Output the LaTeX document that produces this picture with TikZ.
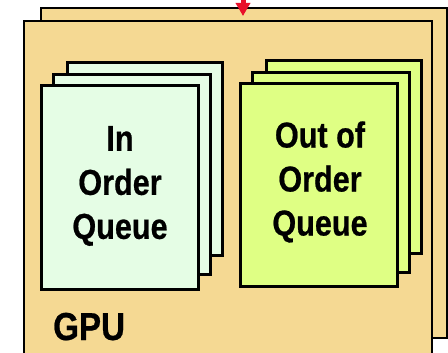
\documentclass[tikz,border=0pt]{standalone}
\usepackage{fontspec}
\usetikzlibrary{arrows.meta}
\newfontfamily\lblfont[FakeStretch=0.85,FakeBold=0.6]{Liberation Sans}
\definecolor{gpufill}{HTML}{F5D993}
\definecolor{iofill}{HTML}{E5FDE5}
\definecolor{oofill}{HTML}{DFFF84}
\definecolor{arrowred}{HTML}{E8102A}
\tikzset{
  gpubox/.style={draw=black, line width=2.5pt, fill=gpufill, anchor=north west, inner sep=0pt, outer sep=0pt},
  iobox/.style={draw=black, line width=3pt, fill=iofill, anchor=north west, inner sep=0pt, outer sep=0pt},
  oobox/.style={draw=black, line width=3pt, fill=oofill, anchor=north west, inner sep=0pt, outer sep=0pt},
  qlabel/.style={align=center, inner sep=0pt, font=\lblfont\bfseries\fontsize{36}{44}\selectfont},
  gpulabel/.style={anchor=base west, inner sep=0pt, font=\lblfont\bfseries\fontsize{39}{39}\selectfont},
  feed/.style={draw=arrowred, line width=5pt, -{Triangle[width=14pt,length=13pt]}}
}
\begin{document}
\begin{tikzpicture}[x=1pt,y=-1pt]
\useasboundingbox (0,0) rectangle (448,353);
\clip (0,0) rectangle (448,353);
\node[gpubox, minimum width=406, minimum height=330] (gpuback) at (41,8) {};
\coordinate (feedstart) at (243,-6);
\coordinate (feedtip) at (243,16);
\draw[feed] (feedstart) -- (feedtip);
\node[gpubox, minimum width=408, minimum height=344] (gpufront) at (24,21) {};
\node[iobox, minimum width=155, minimum height=192] (ioback) at (67,63) {};
\node[iobox, minimum width=157, minimum height=199] (iomid) at (53,75) {};
\node[iobox, minimum width=157, minimum height=203] (iofront) at (41,86) {};
\node[oobox, minimum width=155, minimum height=192] (ooback) at (266,61) {};
\node[oobox, minimum width=157, minimum height=199] (oomid) at (252,73) {};
\node[oobox, minimum width=157, minimum height=202] (oofront) at (240,84) {};
\node[qlabel] (iotext) at (120,186) {In\\Order\\Queue};
\node[qlabel] (ootext) at (320,182) {Out of\\Order\\Queue};
\node[gpulabel] (gputext) at (53,340) {GPU};
\end{tikzpicture}
\end{document}
